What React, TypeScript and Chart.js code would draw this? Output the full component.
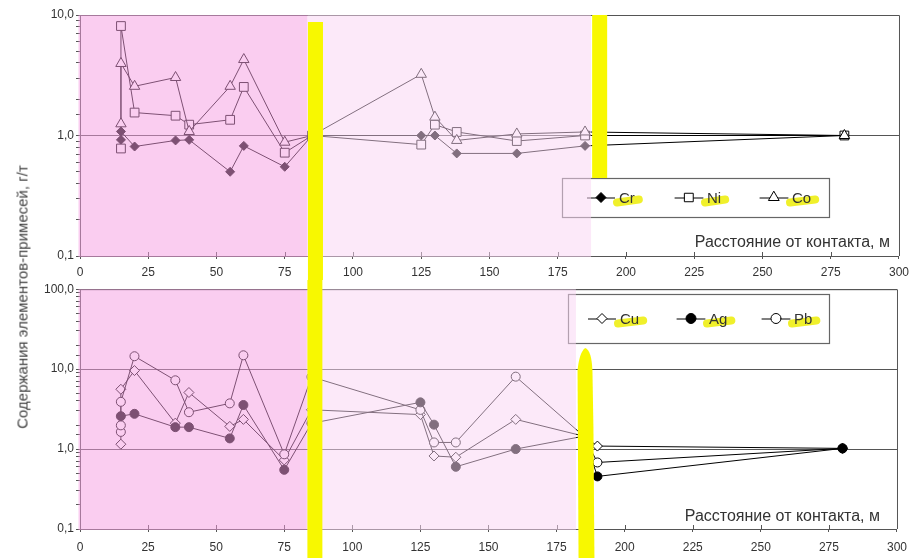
import React, { useEffect, useRef } from 'react';
import { Chart, registerables } from 'chart.js';

Chart.register(...registerables);

// ---------- DATA ----------
const xTickValues = [0, 25, 50, 75, 100, 125, 150, 175, 200, 225, 250, 275, 300];

// top panel (Cr, Ni, Co)
const topX = [15, 15, 20, 35, 40, 55, 60, 75, 85, 125, 130, 138, 160, 185, 280];
const crValues = [0.92, 1.08, 0.81, 0.91, 0.92, 0.5, 0.82, 0.55, 1.0, 1.0, 1.0, 0.71, 0.71, 0.82, 1.0];
const niValues = [0.78, 8.1, 1.55, 1.46, 1.23, 1.35, 2.53, 0.72, 1.0, 0.84, 1.23, 1.07, 0.9, 1.0, 1.0];
const coValues = [1.25, 3.96, 2.56, 3.03, 1.08, 2.56, 4.27, 0.88, 1.0, 3.22, 1.42, 0.91, 1.03, 1.07, 1.0];

// bottom panel (Cu, Ag, Pb)
const cuX = [15, 15, 20, 35, 40, 55, 60, 75, 85, 125, 130, 138, 160, 185, 190, 280];
const cuValues = [1.15, 5.6, 9.6, 2.11, 5.1, 1.92, 2.35, 0.73, 3.1, 2.7, 0.82, 0.79, 2.35, 1.45, 1.09, 1.02];
const agX = [15, 20, 35, 40, 55, 60, 75, 85, 125, 130, 138, 160, 185, 190, 280];
const agValues = [2.58, 2.76, 1.88, 1.88, 1.36, 3.56, 0.55, 2.1, 3.84, 2.02, 0.6, 1.0, 1.45, 0.455, 1.02];
const pbX = [15, 15, 15, 20, 35, 40, 55, 60, 75, 85, 125, 130, 138, 160, 185, 190, 280];
const pbValues = [1.64, 1.98, 3.9, 14.5, 7.25, 2.89, 3.73, 14.9, 0.86, 8.0, 3.09, 1.21, 1.21, 8.05, 1.45, 0.68, 1.02];

const topYTicks = [0.1, 1, 10];
const bottomYTicks = [0.1, 1, 10, 100];

// zones (in distance units)
const topDarkZone = [0, 83.3];
const topLightZone = [83.3, 187.2];
const botDarkZone = [0, 83.3];
const botLightZone = [83.3, 182.1];
const yellowBar1 = [83.5, 89.0];
const topYellowBar2 = [187.6, 193.1];
const botYellowBar2 = [182.7, 188.9];

const xTitle = 'Расстояние от контакта, м';
const yTitle = 'Содержания элементов-примесей, г/т';

// ---------- STYLE ----------
const FONT = '"Liberation Sans", Arial, sans-serif';
const AXIS = '#555';
const TXT = '#333';

const pts = (xs: number[], ys: number[]) => xs.map((x, i) => ({ x, y: ys[i] }));
const isDecade = (v: number) => Math.abs(Math.log10(v) - Math.round(Math.log10(v))) < 1e-6;
const fmt = (v: number) => v.toFixed(1).replace('.', ',');

type LegendItem = { label: string; style: string; fill: string };

function drawMarker(ctx: CanvasRenderingContext2D, style: string, x: number, y: number, r: number, fill: string) {
  ctx.save();
  ctx.beginPath();
  if (style === 'circle') ctx.arc(x, y, r, 0, Math.PI * 2);
  else if (style === 'rect') {
    const s = r * Math.SQRT1_2;
    ctx.rect(x - s, y - s, 2 * s, 2 * s);
  } else if (style === 'rectRot') {
    ctx.moveTo(x - r, y);
    ctx.lineTo(x, y - r);
    ctx.lineTo(x + r, y);
    ctx.lineTo(x, y + r);
    ctx.closePath();
  } else if (style === 'triangle') {
    ctx.moveTo(x, y - r);
    ctx.lineTo(x + r * 0.866, y + r * 0.5);
    ctx.lineTo(x - r * 0.866, y + r * 0.5);
    ctx.closePath();
  }
  ctx.fillStyle = fill;
  ctx.fill();
  ctx.strokeStyle = '#000';
  ctx.lineWidth = 1;
  ctx.stroke();
  ctx.restore();
}

const decorPlugin = {
  id: 'decor',
  afterDatasetsDraw(chart: any, _args: any, opts: any) {
    const { ctx, chartArea: a } = chart;
    const xs = chart.scales.x;
    // inner x ticks
    ctx.save();
    ctx.strokeStyle = AXIS;
    ctx.lineWidth = 1;
    xTickValues.forEach((v) => {
      const px = Math.round(xs.getPixelForValue(v)) + 0.5;
      ctx.beginPath();
      ctx.moveTo(px, a.bottom);
      ctx.lineTo(px, a.bottom - 4);
      ctx.stroke();
    });
    // top + right border
    ctx.beginPath();
    ctx.moveTo(a.left, a.top + 0.5);
    ctx.lineTo(a.right + 0.5, a.top + 0.5);
    ctx.lineTo(a.right + 0.5, a.bottom);
    ctx.stroke();
    ctx.restore();

    // legend
    const lg = opts.legend;
    ctx.save();
    ctx.fillStyle = '#fff';
    ctx.fillRect(lg.x, lg.y, lg.w, lg.h);
    ctx.strokeStyle = '#666';
    ctx.lineWidth = 1.2;
    ctx.strokeRect(lg.x + 0.5, lg.y + 0.5, lg.w, lg.h);
    const cy = lg.y + lg.h / 2;
    ctx.font = `15px ${FONT}`;
    ctx.textBaseline = 'middle';
    (lg.items as LegendItem[]).forEach((it, i) => {
      const lx = lg.x + lg.itemX[i];
      ctx.strokeStyle = '#000';
      ctx.lineWidth = 1;
      ctx.beginPath();
      ctx.moveTo(lx, cy + 0.5);
      ctx.lineTo(lx + 28, cy + 0.5);
      ctx.stroke();
      drawMarker(ctx, it.style, lx + 14, cy, it.style === 'rect' ? 6 : it.style === 'triangle' ? 6 : 5, it.fill);
      const tx = lx + 32;
      const w = ctx.measureText(it.label).width;
      ctx.strokeStyle = 'rgba(238,238,20,0.9)';
      ctx.lineCap = 'round';
      ctx.lineWidth = 8;
      ctx.beginPath();
      ctx.moveTo(tx - 2, cy + 5);
      ctx.lineTo(tx + w + 4, cy + 2);
      ctx.stroke();
      ctx.fillStyle = TXT;
      ctx.fillText(it.label, tx, cy + 1);
    });
    ctx.restore();

    // pink overlays
    ctx.save();
    const zone = (z: number[], color: string) => {
      const x0 = z[0] === 0 ? a.left - 1.5 : xs.getPixelForValue(z[0]);
      const x1 = xs.getPixelForValue(z[1]);
      ctx.fillStyle = color;
      ctx.fillRect(x0, a.top, x1 - x0, a.bottom - a.top + 1);
    };
    zone(opts.dark, 'rgba(245,157,225,0.51)');
    zone(opts.light, 'rgba(250,213,243,0.52)');
    ctx.restore();
  },
  afterDraw(chart: any, _args: any, opts: any) {
    const { ctx } = chart;
    const xs = chart.scales.x;
    // x axis title
    ctx.save();
    ctx.font = `16px ${FONT}`;
    ctx.fillStyle = TXT;
    ctx.textAlign = 'right';
    ctx.textBaseline = 'middle';
    ctx.fillText(xTitle, opts.titleX, opts.titleY);
    ctx.restore();
    // yellow highlighter bars
    ctx.save();
    ctx.fillStyle = '#f8f800';
    (opts.bars as any[]).forEach((b) => {
      const x0 = xs.getPixelForValue(b.range[0]);
      const x1 = xs.getPixelForValue(b.range[1]);
      if (b.blob) {
        const w = x1 - x0;
        ctx.beginPath();
        ctx.moveTo(x0 + 1, b.y1);
        ctx.lineTo(x0, b.y0 + 22);
        ctx.quadraticCurveTo(x0 + 2, b.y0 + 4, x0 + w * 0.45, b.y0);
        ctx.quadraticCurveTo(x1 - 3, b.y0 + 2, x1 - 2, b.y0 + 22);
        ctx.lineTo(x1 - 1, b.y0 + 80);
        ctx.lineTo(x1, b.y1);
        ctx.closePath();
        ctx.fill();
      } else {
        ctx.fillRect(x0, b.y0, x1 - x0, b.y1 - b.y0);
      }
    });
    ctx.restore();
  },
};

function makeOptions(yMax: number, yTicks: number[], padTop: number, xAxisH: number, labelPad: number, decor: any) {
  return {
    responsive: false,
    animation: false as const,
    devicePixelRatio: 1,
    layout: { padding: { top: padTop, right: 14, left: 0, bottom: 0 } },
    plugins: { legend: { display: false }, tooltip: { enabled: false }, decor },
    elements: { line: { borderWidth: 1, tension: 0 } },
    scales: {
      x: {
        type: 'linear' as const,
        min: 0,
        max: 300,
        afterFit: (s: any) => { s.height = xAxisH; },
        afterBuildTicks: (s: any) => { s.ticks = xTickValues.map((v) => ({ value: v })); },
        ticks: { color: TXT, font: { family: FONT, size: 12 }, padding: labelPad, maxRotation: 0, autoSkip: false },
        grid: { drawOnChartArea: false, drawTicks: true, tickLength: 3, color: AXIS, tickColor: AXIS },
        border: { display: true, color: AXIS, width: 1 },
      },
      y: {
        type: 'logarithmic' as const,
        min: 0.1,
        max: yMax,
        afterFit: (s: any) => { s.width = 80; },
        ticks: {
          autoSkip: false,
          color: TXT,
          font: { family: FONT, size: 12 },
          padding: 2,
          callback: (v: any) => (isDecade(Number(v)) && yTicks.some((t) => Math.abs(t - Number(v)) < 1e-9) ? fmt(Number(v)) : ''),
        },
        grid: {
          drawTicks: true,
          tickLength: 4,
          tickColor: AXIS,
          color: (c: any) => (c.tick && isDecade(c.tick.value) ? AXIS : 'rgba(0,0,0,0)'),
        },
        border: { display: true, color: AXIS, width: 1 },
      },
    },
  };
}

function ds(label: string, data: any[], style: string, fill: string, r: number, order: number) {
  return {
    label,
    data,
    borderColor: '#000',
    borderWidth: 1,
    pointStyle: style,
    pointRadius: r,
    pointBackgroundColor: fill,
    pointBorderColor: '#000',
    pointBorderWidth: 1,
    showLine: true,
    fill: false,
    order,
  };
}

export default function App() {
  const topRef = useRef<HTMLCanvasElement>(null);
  const botRef = useRef<HTMLCanvasElement>(null);

  useEffect(() => {
    const top = new Chart(topRef.current!, {
      type: 'line',
      data: {
        datasets: [
          ds('Cr', pts(topX, crValues), 'rectRot', '#000', 4.5, 2),
          ds('Ni', pts(topX, niValues), 'rect', '#fff', 6.2, 1),
          ds('Co', pts(topX, coValues), 'triangle', '#fff', 6, 0),
        ],
      },
      options: makeOptions(10, topYTicks, 15, 24, 6, {
        dark: topDarkZone,
        light: topLightZone,
        legend: {
          x: 562, y: 178, w: 267, h: 39, itemX: [25, 113, 198],
          items: [
            { label: 'Cr', style: 'rectRot', fill: '#000' },
            { label: 'Ni', style: 'rect', fill: '#fff' },
            { label: 'Co', style: 'triangle', fill: '#fff' },
          ],
        },
        titleX: 890,
        titleY: 243,
        bars: [
          { range: yellowBar1, y0: 22, y1: 280 },
          { range: topYellowBar2, y0: 15, y1: 178 },
        ],
      }) as any,
      plugins: [decorPlugin],
    });

    const bot = new Chart(botRef.current!, {
      type: 'line',
      data: {
        datasets: [
          ds('Cu', pts(cuX, cuValues), 'rectRot', '#fff', 5, 2),
          ds('Ag', pts(agX, agValues), 'circle', '#000', 4.5, 0),
          ds('Pb', pts(pbX, pbValues), 'circle', '#fff', 4.5, 1),
        ],
      },
      options: makeOptions(100, bottomYTicks, 7, 29, 8, {
        dark: botDarkZone,
        light: botLightZone,
        legend: {
          x: 568, y: 14, w: 261, h: 49, itemX: [20, 109, 194],
          items: [
            { label: 'Cu', style: 'rectRot', fill: '#fff' },
            { label: 'Ag', style: 'circle', fill: '#000' },
            { label: 'Pb', style: 'circle', fill: '#fff' },
          ],
        },
        titleX: 880,
        titleY: 237,
        bars: [
          { range: yellowBar1, y0: 0, y1: 278 },
          { range: botYellowBar2, y0: 68, y1: 278, blob: true },
        ],
      }) as any,
      plugins: [decorPlugin],
    });

    return () => {
      top.destroy();
      bot.destroy();
    };
  }, []);

  return (
    <div style={{ position: 'absolute', left: 0, top: 0, width: 915, height: 558, background: '#fff', overflow: 'hidden' }}>
      <canvas ref={topRef} width={915} height={280} style={{ position: 'absolute', left: 0, top: 0, width: 915, height: 280 }} />
      <canvas ref={botRef} width={915} height={278} style={{ position: 'absolute', left: 0, top: 280, width: 915, height: 278 }} />
      <div
        style={{
          position: 'absolute',
          left: 22,
          top: 297,
          transform: 'translate(-50%, -50%) rotate(-90deg)',
          whiteSpace: 'nowrap',
          font: `15px ${FONT}`,
          color: '#444',
        }}
      >
        {yTitle}
      </div>
    </div>
  );
}
